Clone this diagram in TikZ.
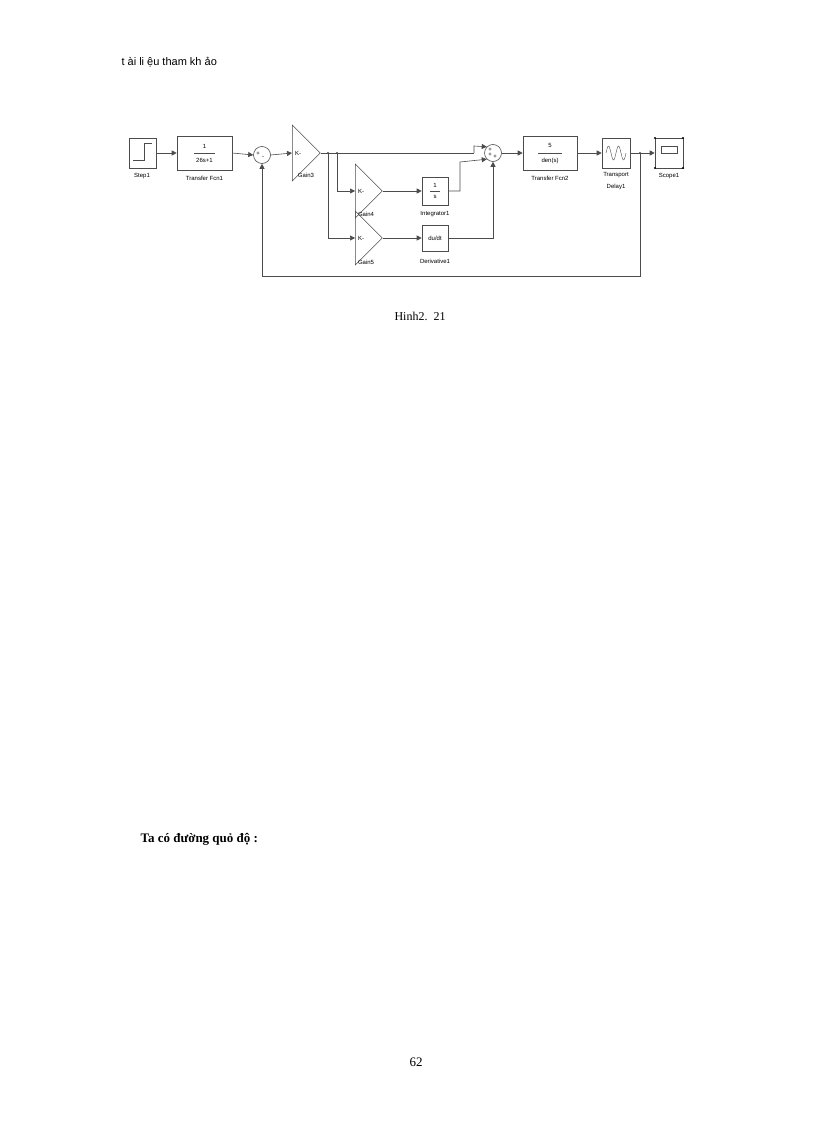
\documentclass[tikz,border=0pt]{standalone}
\usepackage{fontspec}
\setmainfont{Liberation Serif}
\newfontfamily\lsans{Liberation Sans}
\usetikzlibrary{arrows.meta,shapes.geometric}
\begin{document}
\begin{tikzpicture}[x=1pt,y=-1pt,
 blk/.style={draw=black!70,line width=0.6pt,inner sep=0pt},
 lab/.style={font=\lsans\fontsize{6}{7}\selectfont,inner sep=0pt},
 sig/.style={draw=black!70,line width=0.6pt,-{Triangle[length=5pt,width=5pt]}},
 wire/.style={draw=black!70,line width=0.6pt}]
\useasboundingbox (0,0) rectangle (816,1123);
\node[font=\lsans\fontsize{11}{13}\selectfont,anchor=west] (hdr) at (118,62) {t ài li ệu tham kh ảo};
% blocks
\node[blk,minimum width=27pt,minimum height=30pt] (step) at (142.5,153) {};
\draw[black!70] (133,160) -- (144,160) -- (144,143) -- (152,143);
\node[lab] (stepl) at (142,176) {Step1};
\node[blk,minimum width=55pt,minimum height=34pt] (tf1) at (204.5,153) {};
\node[lab] at (204.5,146) {1};
\draw[black!70] (194,153) -- (215,153);
\node[lab] at (204.5,160) {26s+1};
\node[lab] (tf1l) at (204.5,178) {Transfer Fcn1};
\node[blk,circle,minimum size=17pt] (s1) at (262,155) {};
\node[lab] at (258,154) {+};
\node[lab] at (263,158) {-};
\node[blk,isosceles triangle,isosceles triangle apex angle=90,minimum height=28pt,anchor=west] (g3) at (292,153) {};
\node[lab,anchor=west] at (295,153) {K-};
\node[lab] (g3l) at (306,175) {Gain3};
\node[blk,isosceles triangle,isosceles triangle apex angle=90,minimum height=27pt,anchor=west] (g4) at (355,191) {};
\node[lab,anchor=west] at (358,191) {K-};
\node[lab] (g4l) at (366,214) {Gain4};
\node[blk,isosceles triangle,isosceles triangle apex angle=90,minimum height=27pt,anchor=west] (g5) at (355,238) {};
\node[lab,anchor=west] at (358,238) {K-};
\node[lab] (g5l) at (366,262) {Gain5};
\node[blk,minimum width=26pt,minimum height=28pt] (int) at (435,191) {};
\node[lab] at (435,185) {1};
\draw[black!70] (430,191) -- (440,191);
\node[lab] at (435,197) {s};
\node[lab] (intl) at (435,214) {Integrator1};
\node[blk,minimum width=26pt,minimum height=26pt,font=\lsans\fontsize{6}{7}\selectfont] (der) at (435,238) {du/dt};
\node[lab] (derl) at (435,261) {Derivative1};
\node[blk,circle,minimum size=17pt] (s2) at (493,153) {};
\node[lab] at (490,150) {+};
\node[lab] at (490,155) {+};
\node[lab] at (495,157) {+};
\node[blk,minimum width=54pt,minimum height=34pt] (tf2) at (550,153) {};
\node[lab] at (550,145) {5};
\draw[black!70] (538,153) -- (562,153);
\node[lab] at (550,161) {den(s)};
\node[lab] (tf2l) at (550,178) {Transfer Fcn2};
\node[blk,minimum width=28pt,minimum height=30pt] (td) at (616,153) {};
\draw[black!70] plot[domain=0:1,samples=30] ({606+\x*20},{153-7*sin(\x*720)});
\node[lab] (tdl) at (616,175) {Transport};
\node[lab] (tdl2) at (616,187) {Delay1};
\node[blk,minimum width=28pt,minimum height=30pt] (sc) at (669,153) {};
\draw[black!70] (661,146) rectangle (677,153);
\foreach \p in {(655,138),(683,138),(655,168),(683,168)} \fill \p circle (1.2pt);
\node[lab] (scl) at (669,176) {Scope1};
% connectors
\draw[sig] (step) -- (tf1);
\draw[sig] (tf1.east) -- (s1.west);
\draw[sig] (s1.east) -- (g3.west);
\coordinate (b1) at (328,153);
\coordinate (b2) at (337,153);
\coordinate (b3) at (474,153);
\coordinate (b4) at (640,153);
\fill[black!70] (b1) circle (1.2pt) (b2) circle (1.2pt) (b4) circle (1.2pt);
\draw[wire] (g3.east) -- (b3);
\draw[sig] (b3) -- (474,146) -- (s2.135);
\draw[sig] (b2) |- (g4.west);
\draw[sig] (b1) |- (g5.west);
\draw[sig] (g4.east) -- (int.west);
\draw[sig] (g5.east) -- (der.west);
\draw[sig] (int.east) -- (460,191) -- (460,162) -- (s2.225);
\draw[sig] (der.east) -| (s2.south);
\draw[sig] (s2.east) -- (tf2.west);
\draw[sig] (tf2.east) -- (td.west);
\draw[sig] (td.east) -- (sc.west);
\draw[sig] (b4) -- (640,276) -| (s1.south);
% texts
\node[font=\fontsize{12}{14}\selectfont] (cap) at (420,316) {Hinh2.\ \ 21};
\node[font=\bfseries\fontsize{13}{15}\selectfont,anchor=west] (ta) at (137,839) {Ta có đường quỏ độ :};
\node[font=\fontsize{13}{15}\selectfont] (pg) at (416,1062) {62};
\end{tikzpicture}
\end{document}
